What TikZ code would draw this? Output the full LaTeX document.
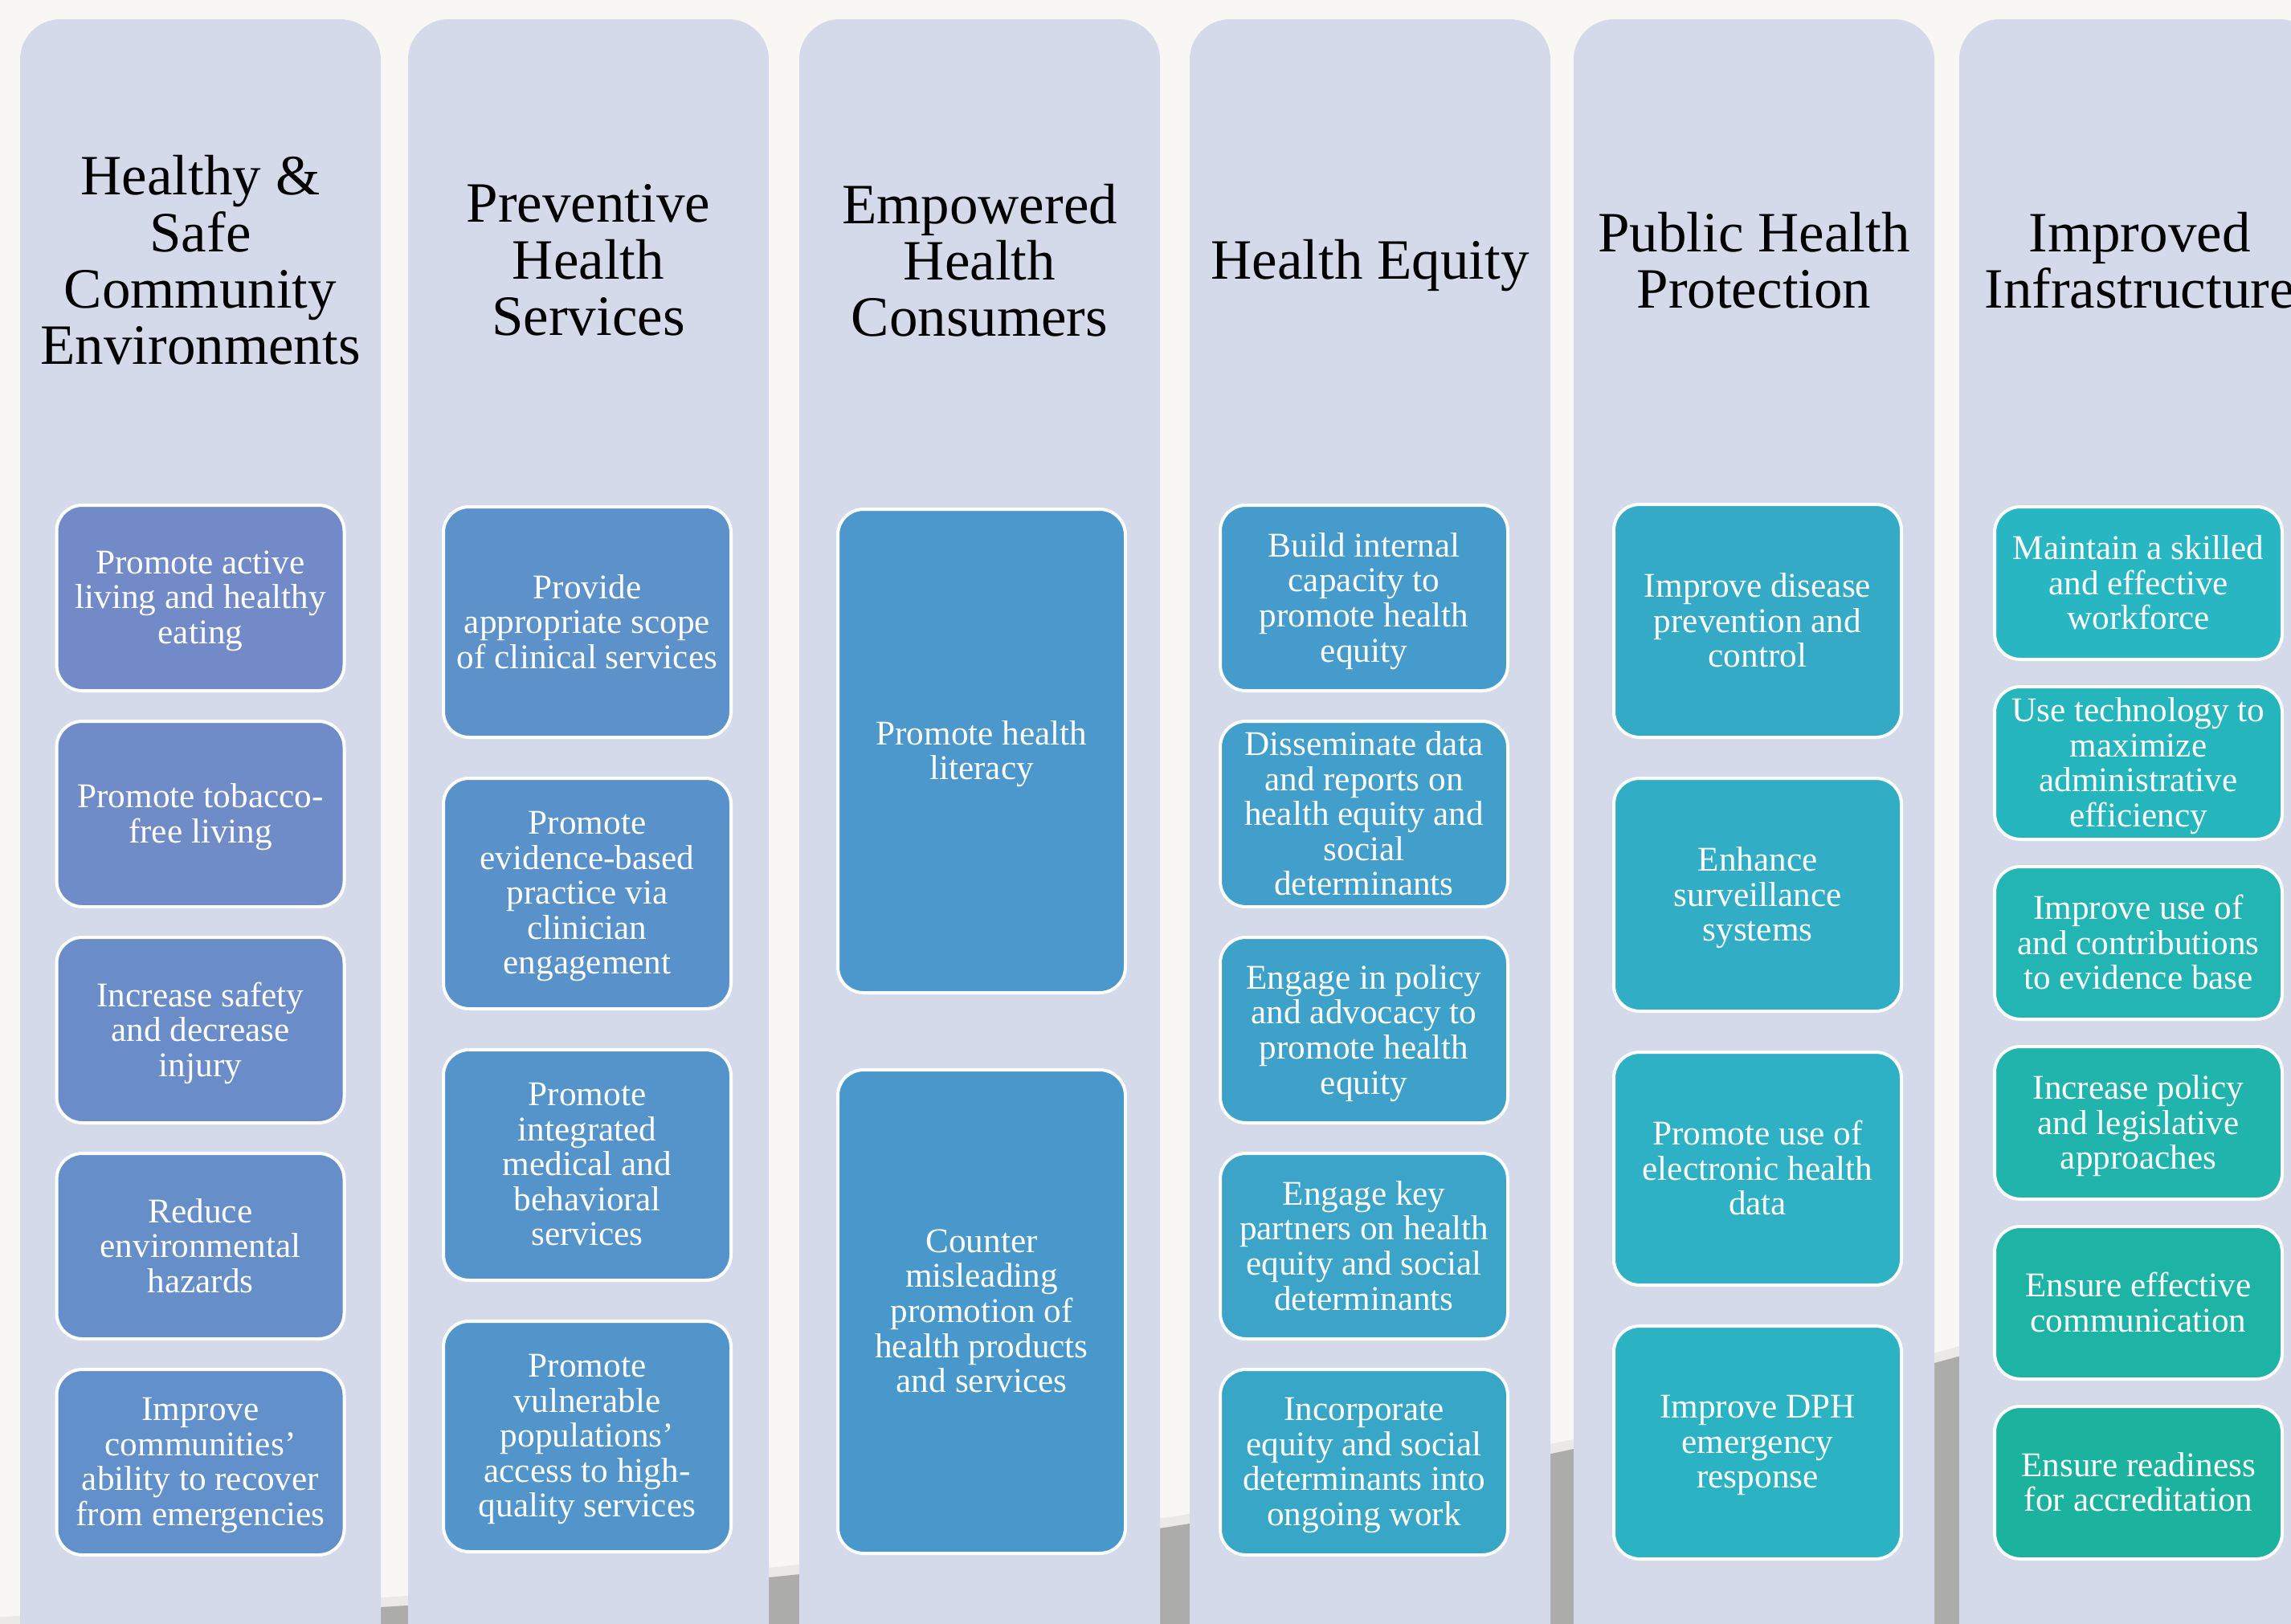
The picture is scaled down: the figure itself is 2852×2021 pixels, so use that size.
\documentclass[tikz,border=0pt]{standalone}
\usepackage{fontspec}
\setmainfont{Liberation Serif}
\usetikzlibrary{positioning}

\definecolor{paper}{HTML}{F8F7F3}
\definecolor{pillarfill}{HTML}{D4DAEA}
\definecolor{floorgray}{HTML}{ACACAA}
\definecolor{floorlip}{HTML}{EAE9E5}
\definecolor{goalA}{HTML}{738AC8}
\definecolor{goalB}{HTML}{4898CC}
\definecolor{goalC}{HTML}{28B6C3}
\definecolor{goalD}{HTML}{1BB39E}

\begin{document}
\begin{tikzpicture}[x=0.1mm, y=-0.1mm,
    pillar/.style={fill=pillarfill, rounded corners=5mm, minimum width=44.9mm, minimum height=209.6mm, inner sep=0},
    pillarhead/.style={align=center, font=\fontsize{20.2}{20}\selectfont},
    goal/.style={draw=white, line width=0.4mm, fill=#1, text=white, rounded corners=3.2mm, align=center, minimum width=35.8mm, inner sep=0, text depth=0.5pt, font=\fontsize{12.3}{12.4}\selectfont}]

    \useasboundingbox (0,0) rectangle (2852,2021);
    \clip (0,0) rectangle (2852,2021);
    \fill[paper] (0,0) rectangle (2852,2021);

    % floor behind the pillars
    \draw[floorlip, line width=2.4mm] plot[smooth] coordinates {(-20,2026) (490,2000) (976,1962) (1462,1900) (1945,1807) (2423,1693) (2872,1555)};
    \fill[floorgray] plot[smooth] coordinates {(-20,2026) (490,2000) (976,1962) (1462,1900) (1945,1807) (2423,1693) (2872,1555)} -- (2872,2060) -- (-20,2060) -- cycle;

    \node[pillar] (env) at (249.5,1072) {};
    \node[pillar] (prev) at (732.5,1072) {};
    \node[pillar] (cons) at (1219.5,1072) {};
    \node[pillar] (equity) at (1705.5,1072) {};
    \node[pillar] (prot) at (2183.5,1072) {};
    \node[pillar] (infra) at (2663.5,1072) {};

    \node[pillarhead] (envT) at (249.5,324) {Healthy \&\\Safe\\Community\\Environments};
    \node[pillarhead] (prevT) at (732.5,324) {Preventive\\Health\\Services};
    \node[pillarhead] (consT) at (1219.5,324) {Empowered\\Health\\Consumers};
    \node[pillarhead] (equityT) at (1705.5,331) {Health Equity};
    \node[pillarhead] (protT) at (2183.5,324) {Public Health\\Protection};
    \node[pillarhead] (infraT) at (2663.5,324) {Improved\\Infrastructure};

    \begin{scope}[node distance=3.4mm, every node/.append style={minimum height=23.1mm}]
    \node[goal=goalA] (env1) at (249.5,744.5) {Promote active\\living and healthy\\eating};
    \node[goal=goalB!10!goalA, below=of env1] (env2) {Promote tobacco-\\free living};
    \node[goal=goalB!20!goalA, below=of env2] (env3) {Increase safety\\and decrease\\injury};
    \node[goal=goalB!30!goalA, below=of env3] (env4) {Reduce\\environmental\\hazards};
    \node[goal=goalB!40!goalA, below=of env4] (env5) {Improve\\communities’\\ability to recover\\from emergencies};
    \end{scope}

    \begin{scope}[node distance=4.7mm, every node/.append style={minimum height=28.7mm}]
    \node[goal=goalB!50!goalA] (prev1) at (731,774.5) {Provide\\appropriate scope\\of clinical services};
    \node[goal=goalB!60!goalA, below=of prev1] (prev2) {Promote\\evidence-based\\practice via\\clinician\\engagement};
    \node[goal=goalB!70!goalA, below=of prev2] (prev3) {Promote\\integrated\\medical and\\behavioral\\services};
    \node[goal=goalB!80!goalA, below=of prev3] (prev4) {Promote\\vulnerable\\populations’\\access to high-\\quality services};
    \end{scope}

    \begin{scope}[node distance=9.2mm, every node/.append style={minimum height=60.2mm}]
    \node[goal=goalB!90!goalA] (cons1) at (1222,935) {Promote health\\literacy};
    \node[goal=goalB, below=of cons1] (cons2) {Counter\\misleading\\promotion of\\health products\\and services};
    \end{scope}

    \begin{scope}[node distance=3.4mm, every node/.append style={minimum height=23.1mm}]
    \node[goal=goalC!10!goalB] (equity1) at (1698,744.5) {Build internal\\capacity to\\promote health\\equity};
    \node[goal=goalC!20!goalB, below=of equity1] (equity2) {Disseminate data\\and reports on\\health equity and\\social\\determinants};
    \node[goal=goalC!30!goalB, below=of equity2] (equity3) {Engage in policy\\and advocacy to\\promote health\\equity};
    \node[goal=goalC!40!goalB, below=of equity3] (equity4) {Engage key\\partners on health\\equity and social\\determinants};
    \node[goal=goalC!50!goalB, below=of equity4] (equity5) {Incorporate\\equity and social\\determinants into\\ongoing work};
    \end{scope}

    \begin{scope}[node distance=4.7mm, every node/.append style={minimum height=29mm}]
    \node[goal=goalC!60!goalB] (prot1) at (2188,773) {Improve disease\\prevention and\\control};
    \node[goal=goalC!70!goalB, below=of prot1] (prot2) {Enhance\\surveillance\\systems};
    \node[goal=goalC!80!goalB, below=of prot2] (prot3) {Promote use of\\electronic health\\data};
    \node[goal=goalC!90!goalB, below=of prot3] (prot4) {Improve DPH\\emergency\\response};
    \end{scope}

    \begin{scope}[node distance=3mm, every node/.append style={minimum height=19mm}]
    \node[goal=goalC] (infra1) at (2662,726) {Maintain a skilled\\and effective\\workforce};
    \node[goal=goalD!20!goalC, below=of infra1] (infra2) {Use technology to\\maximize\\administrative\\efficiency};
    \node[goal=goalD!40!goalC, below=of infra2] (infra3) {Improve use of\\and contributions\\to evidence base};
    \node[goal=goalD!60!goalC, below=of infra3] (infra4) {Increase policy\\and legislative\\approaches};
    \node[goal=goalD!80!goalC, below=of infra4] (infra5) {Ensure effective\\communication};
    \node[goal=goalD, below=of infra5] (infra6) {Ensure readiness\\for accreditation};
    \end{scope}
\end{tikzpicture}
\end{document}
